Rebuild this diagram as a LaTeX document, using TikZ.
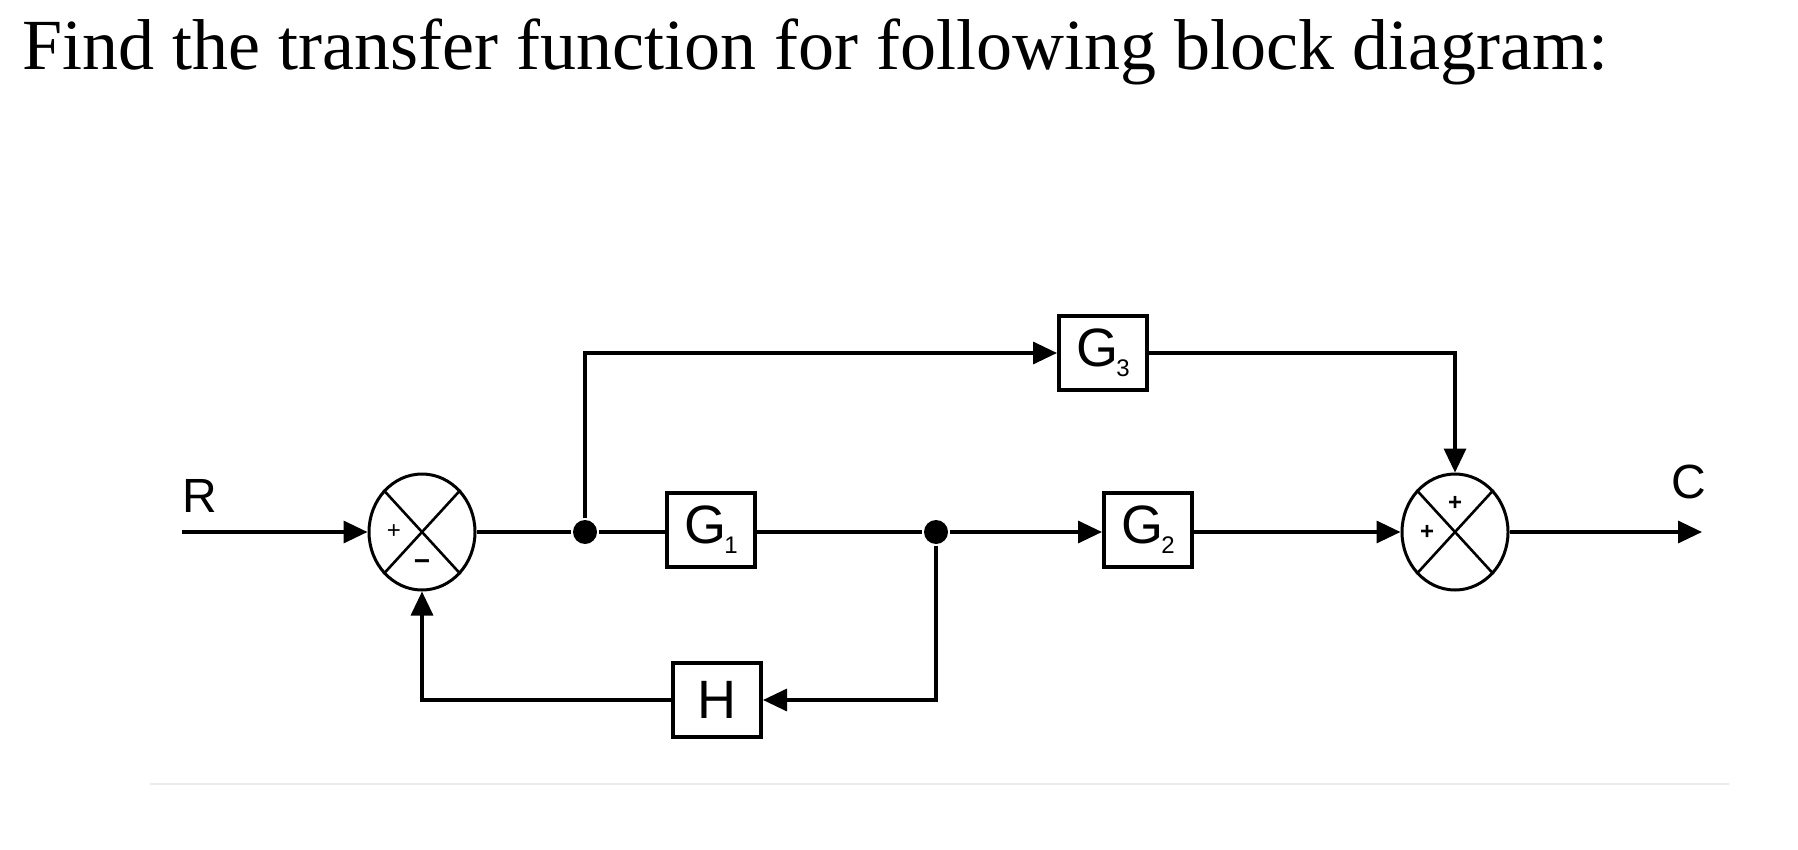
\documentclass[tikz,border=0pt]{standalone}
\usepackage{fontspec}
\setmainfont{Liberation Serif}
\newfontfamily\lab{Liberation Sans}
\usetikzlibrary{arrows.meta,shapes.geometric}
\newcommand{\gsub}[1]{G\kern-1pt\raisebox{-5pt}{\fontsize{12}{12}\selectfont #1}}
\begin{document}
\begin{tikzpicture}[x=0.5pt,y=-0.5pt,line width=1.7pt,
  blk/.style={draw,line width=2pt,minimum width=44pt,minimum height=37pt,inner sep=0pt,font=\lab\fontsize{27}{27}\selectfont},
  sumj/.style={draw,ellipse,line width=1.5pt,minimum width=53pt,minimum height=58pt,inner sep=0pt},
  arr/.style={-{Triangle[length=12pt,width=11pt]}},
  dotj/.style={circle,fill,inner sep=0pt,minimum size=12pt},
  lbl/.style={font=\lab\fontsize{24}{24}\selectfont}]
\useasboundingbox (0,0) rectangle (1798,850);
\node[anchor=west,font=\fontsize{36}{36}\selectfont] (title) at (14,52) {Find the transfer function for following block diagram:};
\draw[line width=1pt,black!8] (150,784) -- (1729,784);
\coordinate (rin) at (182,532);
\node[lbl] (R) at (200,496) {R};
\node[sumj] (s1) at (422,532) {};
\draw[line width=1.3pt] (s1.north west) -- (s1.south east) (s1.north east) -- (s1.south west);
\node[font=\lab\fontsize{12}{12}\selectfont] (s1p) at (394,532) {+};
\node[font=\lab\bfseries\fontsize{14}{14}\selectfont] (s1m) at (422,565) {\textminus};
\node[dotj] (d1) at (585,532) {};
\node[blk] (g1) at (711,530) {\gsub{1}};
\node[dotj] (d2) at (936,532) {};
\node[blk] (g2) at (1148,530) {\gsub{2}};
\node[blk] (g3) at (1103,353) {\gsub{3}};
\node[blk] (h) at (717,700) {H};
\node[sumj] (s2) at (1455,532) {};
\draw[line width=1.3pt] (s2.north west) -- (s2.south east) (s2.north east) -- (s2.south west);
\node[font=\lab\bfseries\fontsize{12}{12}\selectfont] (s2l) at (1427,532) {+};
\node[font=\lab\bfseries\fontsize{12}{12}\selectfont] (s2t) at (1455,503) {+};
\coordinate (cout) at (1702,532);
\node[lbl] (C) at (1689,482) {C};
\draw[arr] (rin) -- (s1.west);
\draw (s1.east) -- (d1) -- (g1.west |- d1);
\draw (g1.east |- d2) -- (d2);
\draw[arr] (d2) -- (g2.west |- d2);
\draw[arr] (g2.east |- s2) -- (s2.west);
\draw[arr] (d1) |- (g3.west);
\draw[arr] (g3.east) -| (s2.north);
\draw[arr] (d2) |- (h.east);
\draw[arr] (h.west) -| (s1.south);
\draw[arr] (s2.east) -- (cout);
\end{tikzpicture}
\end{document}
